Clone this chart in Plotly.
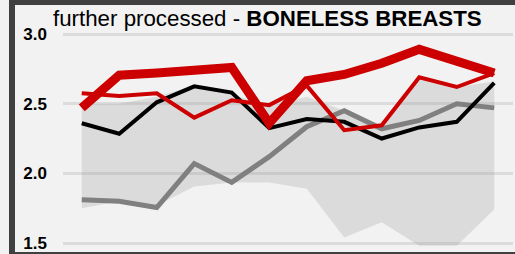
import plotly.graph_objects as go

idx = list(range(12))

thick_red = [2.47, 2.705, 2.72, 2.74, 2.76, 2.36, 2.665, 2.71, 2.79, 2.89, 2.80, 2.72]
mid_red = [2.575, 2.555, 2.575, 2.40, 2.525, 2.49, 2.63, 2.31, 2.345, 2.69, 2.62, 2.72]
black = [2.36, 2.285, 2.51, 2.625, 2.58, 2.325, 2.39, 2.37, 2.25, 2.33, 2.37, 2.65]
gray = [1.81, 1.80, 1.755, 2.07, 1.935, 2.12, 2.335, 2.45, 2.32, 2.38, 2.50, 2.47]
band_upper = [2.50, 2.50, 2.55, 2.63, 2.57, 2.48, 2.55, 2.45, 2.33, 2.68, 2.62, 2.66]
band_lower = [1.75, 1.80, 1.77, 1.905, 1.935, 1.935, 1.89, 1.54, 1.65, 1.48, 1.48, 1.74]

y_ticks = [1.5, 2.0, 2.5, 3.0]
y_labels = ["1.5", "2.0", "2.5", "3.0"]

fig = go.Figure()
fig.add_trace(go.Scatter(x=idx, y=band_lower, mode="lines", line=dict(width=0),
                         hoverinfo="skip", showlegend=False))
fig.add_trace(go.Scatter(x=idx, y=band_upper, mode="lines", line=dict(width=0),
                         fill="tonexty", fillcolor="rgba(128,128,128,0.2)",
                         hoverinfo="skip", showlegend=False))
fig.add_trace(go.Scatter(x=idx, y=gray, mode="lines",
                         line=dict(color="#808080", width=5), showlegend=False))
fig.add_trace(go.Scatter(x=idx, y=black, mode="lines",
                         line=dict(color="#000000", width=4), showlegend=False))
fig.add_trace(go.Scatter(x=idx, y=mid_red, mode="lines",
                         line=dict(color="#cc0000", width=4), showlegend=False))
fig.add_trace(go.Scatter(x=idx, y=thick_red, mode="lines",
                         line=dict(color="#cc0000", width=9), showlegend=False))

# plot area in page pixels: x 63..513, y 25..250
L, R, T, B = 63, 2, 25, 4
W, H = 515, 254
pw, ph = W - L - R, H - T - B

def px(x):
    return (x - L) / pw

def py(y):
    return (H - B - y) / ph

fig.update_layout(
    width=W, height=H,
    margin=dict(l=L, r=R, t=T, b=B),
    paper_bgcolor="#f2f2f2",
    plot_bgcolor="#f2f2f2",
    font=dict(family="Liberation Sans, Arial, sans-serif", color="#000000"),
    xaxis=dict(range=[-0.5, 11.5], showgrid=False, zeroline=False,
               showticklabels=False, showline=False, fixedrange=True),
    yaxis=dict(range=[1.45, 3.065], tickvals=y_ticks, ticktext=y_labels,
               showgrid=True, gridcolor="#dcdcdc", gridwidth=3,
               zeroline=False, showline=False, ticks="",
               tickfont=dict(size=17, weight="bold", color="#000000"),
               ticklabelstandoff=15, fixedrange=True),
    showlegend=False,
    shapes=[
        dict(type="rect", xref="paper", yref="paper", x0=px(9), x1=px(15),
             y0=py(254), y1=py(0), fillcolor="#404040", line=dict(width=0), layer="above"),
        dict(type="rect", xref="paper", yref="paper", x0=px(9), x1=px(515),
             y0=py(5), y1=py(0), fillcolor="#404040", line=dict(width=0), layer="above"),
        dict(type="rect", xref="paper", yref="paper", x0=px(9), x1=px(515),
             y0=py(254), y1=py(252), fillcolor="#404040", line=dict(width=0), layer="above"),
    ],
    annotations=[
        dict(text="further processed - <b>BONELESS BREASTS</b>", xref="paper", yref="paper",
             x=px(51), y=py(18), xanchor="left", yanchor="middle", showarrow=False,
             font=dict(size=22.3, color="#000000"))
    ],
)

fig.write_html("out.html", config={"displayModeBar": False, "staticPlot": True},
               post_script="document.body.style.margin='0';document.body.style.overflow='hidden';")
